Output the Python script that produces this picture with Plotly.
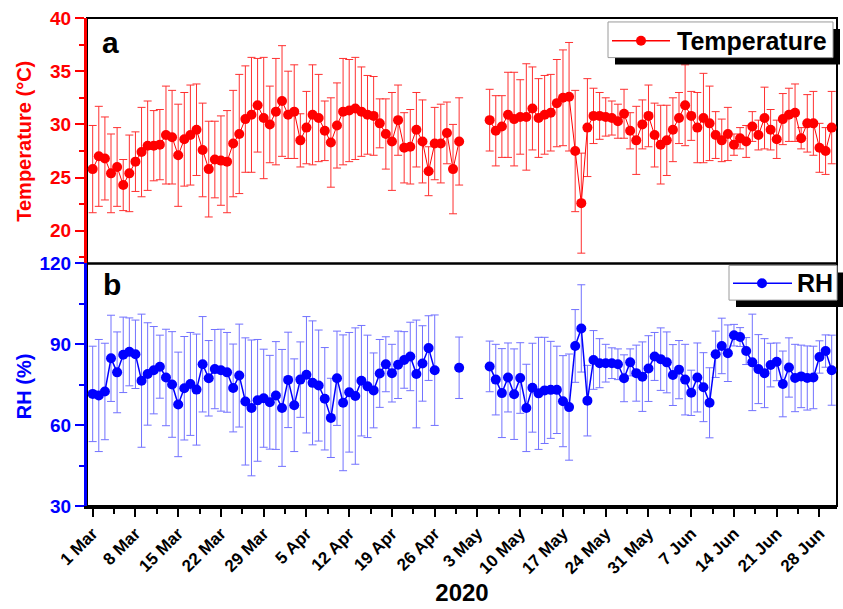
import pandas as pd
import plotly.graph_objects as go

start_date = "2020-03-01"
n_days = 122

temp_mean = [25.8, 27.0, 26.8, 25.4, 26.0, 24.3, 25.4, 26.5, 27.4, 28.0, 28.0, 28.1, 29.0, 28.8, 27.1,
             28.6, 29.0, 29.5, 27.6, 25.8, 26.7, 26.6, 26.5, 28.2, 29.1, 30.5, 30.9, 31.8, 30.6, 30.0,
             31.2, 32.2, 30.9, 31.2, 28.5, 29.7, 30.9, 30.6, 29.4, 28.3, 29.9, 31.2, 31.3, 31.5, 31.2,
             30.9, 30.8, 30.1, 29.1, 28.4, 30.4, 27.8, 27.9, 29.5, 28.4, 25.6, 28.2, 28.2, 29.2, 25.8, 28.4,
             None, None, None, None,
             30.4, 29.4, 29.8, 30.9, 30.5, 30.7, 30.7, 31.5, 30.6, 30.9, 31.1, 32.0, 32.5, 32.6, 27.5,
             22.6, 29.7, 30.8, 30.8, 30.7, 30.6, 30.3, 31.0, 29.4, 28.5, 30.0, 30.8, 29.0, 28.1,
             28.5, 29.5, 30.6, 31.8, 30.8, 29.7, 30.6, 30.1, 29.0, 28.5, 29.1, 28.1, 28.7, 28.4, 29.8,
             29.0, 30.6, 29.5, 28.6, 30.5, 30.9, 31.1, 28.7, 30.1, 30.1, 27.8, 27.5, 29.7]

temp_sd = [4.1, 4.7, 3.9, 3.7, 3.7, 2.4, 3.6, 2.8, 4.2, 4.2, 3.3, 3.3, 4.6, 4.4, 4.8,
           4.4, 4.7, 4.3, 4.4, 4.5, 3.6, 4.2, 4.8, 5.0, 5.6, 5.0, 5.4, 4.4, 5.7, 3.6,
           5.0, 5.2, 4.1, 4.4, 2.5, 3.4, 4.7, 4.1, 2.8, 4.2, 4.0, 5.0, 4.8, 4.8, 4.2,
           3.7, 3.7, 2.3, 3.3, 4.6, 3.3, 3.3, 3.5, 3.5, 3.9, 2.3, 3.4, 3.7, 2.9, 4.2, 4.1,
           None, None, None, None,
           2.9, 3.3, 2.9, 4.0, 4.4, 3.5, 5.0, 3.9, 3.7, 3.7, 3.6, 4.1, 4.5, 5.1, 5.7,
           4.7, 4.6, 2.6, 2.2, 1.8, 1.6, 1.6, 2.3, 1.7, 3.2, 2.3, 2.9, 3.0, 3.7,
           3.3, 3.0, 2.4, 3.8, 2.3, 3.3, 4.2, 3.5, 2.2, 2.0, 2.5, 1.0, 1.0, 1.5, 1.4,
           1.4, 2.9, 1.9, 1.8, 2.4, 2.5, 2.7, 1.0, 2.7, 3.0, 2.3, 2.2, 3.4]

rh_mean = [71.6, 71.0, 72.5, 84.8, 79.6, 86.1, 87.2, 86.3, 76.5, 79.0, 80.4, 81.7, 77.7, 75.1, 67.7,
           73.7, 75.3, 73.2, 82.6, 77.4, 80.8, 80.4, 79.6, 73.8, 78.4, 68.8, 66.4, 69.2, 70.0, 68.5, 71.0,
           66.4, 76.8, 67.4, 76.9, 78.7, 75.7, 74.7, 69.8, 62.7, 77.4, 68.3, 72.2, 70.8, 76.5, 74.4,
           72.9, 79.2, 82.6, 79.3, 82.4, 84.2, 85.5, 79.0, 82.9, 88.6, 80.4,
           None, None, None,
           81.3,
           None, None, None, None,
           81.8, 76.9, 71.9, 77.7, 71.5, 77.5, 66.4, 73.9, 71.8, 72.9, 73.1, 73.1, 68.9, 66.7, 89.4,
           95.9, 69.1, 84.2, 83.0, 83.0, 83.0, 82.6, 77.4, 83.3, 79.3, 78.0, 81.0, 85.5, 84.5,
           83.3, 78.6, 80.6, 76.9, 72.0, 77.7, 74.1, 68.3, 86.3, 89.4, 86.7, 93.4, 92.7, 87.5, 83.3,
           80.8, 79.3, 82.3, 83.5, 75.3, 81.4, 77.5, 78.1, 77.5, 77.7, 85.3, 87.5, 80.4]

rh_sd = [17.7, 20.8, 17.9, 16.0, 15.0, 14.0, 12.6, 12.7, 24.7, 19.0, 16.2, 11.7, 17.9, 19.6, 19.4,
         19.2, 19.1, 20.6, 17.7, 14.0, 14.7, 15.2, 14.8, 16.3, 19.1, 23.6, 25.2, 22.6, 18.2, 17.4, 20.0,
         21.7, 17.7, 17.2, 14.0, 21.6, 23.0, 20.6, 19.0, 14.7, 17.5, 25.2, 22.2, 25.3, 20.5, 19.0,
         13.9, 12.6, 10.2, 10.7, 12.5, 10.5, 12.7, 20.0, 14.0, 12.0, 20.5,
         None, None, None,
         11.4,
         None, None, None, None,
         9.4, 13.1, 16.5, 12.8, 16.8, 13.1, 16.2, 16.5, 20.8, 19.7, 18.0, 16.2, 16.9, 19.7, 13.5,
         16.2, 13.1, 10.9, 9.1, 7.0, 5.7, 5.7, 8.7, 5.0, 10.4, 12.9, 12.2, 8.9, 11.6,
         11.3, 11.3, 10.8, 13.1, 8.4, 12.8, 12.8, 13.0, 8.6, 10.3, 10.5, 4.0, 3.5, 5.0, 17.9,
         12.8, 12.8, 8.1, 7.0, 12.2, 11.0, 12.5, 11.6, 11.9, 11.6, 6.0, 6.0, 13.0]

dates = pd.date_range(start_date, periods=n_days, freq="D")

FONT = "Liberation Sans"
RED = "#ff0000"
BLUE = "#0000ff"

W, H = 843, 609
L, R, T, B = 87, 6, 18, 98
PW = W - L - R
PH = H - T - B


def px(x):
    return (x - L) / PW


def py(y):
    return (H - B - y) / PH


split = py(266)

fig = go.Figure()

fig.add_trace(go.Scatter(
    x=dates, y=temp_mean, mode="lines+markers", name="Temperature",
    line=dict(color=RED, width=1), marker=dict(color=RED, size=10),
    error_y=dict(type="data", array=temp_sd, color="#ff3030", thickness=1, width=4),
    xaxis="x2", yaxis="y2", showlegend=False, connectgaps=False))

fig.add_trace(go.Scatter(
    x=dates, y=rh_mean, mode="lines+markers", name="RH",
    line=dict(color=BLUE, width=1.5), marker=dict(color=BLUE, size=10),
    error_y=dict(type="data", array=rh_sd, color="#7272ff", thickness=1, width=4),
    xaxis="x", yaxis="y", showlegend=False, connectgaps=False))

xrange = ["2020-02-29 01:40", "2020-06-30 20:50"]

fig.update_layout(
    width=W, height=H,
    margin=dict(l=L, r=R, t=T, b=B),
    plot_bgcolor="white", paper_bgcolor="white",
    font=dict(family=FONT, color="black"),
    xaxis=dict(domain=[0, 1], anchor="y", range=xrange, type="date",
               showline=True, linecolor="black", linewidth=3,
               ticks="outside", ticklen=8, tickwidth=2, tickcolor="black",
               tick0="2020-03-01", dtick=604800000, tickformat="%-d %b", tickangle=-45,
               tickfont=dict(family=FONT, size=17, color="black", weight="bold"),
               minor=dict(ticks="outside", ticklen=5, tickwidth=2, tickcolor="black",
                          dtick=302400000, tick0="2020-03-01"),
               showgrid=False, zeroline=False,
               title=dict(text="2020", font=dict(family=FONT, size=24, color="black", weight="bold"),
                          standoff=8)),
    xaxis2=dict(domain=[0, 1], anchor="y2", matches="x", range=xrange, type="date",
                showticklabels=False, showline=False, ticks="", showgrid=False, zeroline=False),
    yaxis=dict(domain=[0, split], anchor="x", range=[30, 120],
               tickvals=[30, 60, 90, 120], showline=True, linecolor=BLUE, linewidth=3,
               ticks="outside", ticklen=9, tickwidth=2, tickcolor=BLUE,
               minor=dict(ticks="outside", ticklen=5, tickwidth=2, tickcolor=BLUE, dtick=15, tick0=30),
               tickfont=dict(family=FONT, size=19, color=BLUE, weight="bold"),
               showgrid=False, zeroline=False),
    yaxis2=dict(domain=[split, 1], anchor="x2", range=[16.93, 40],
                tickvals=[20, 25, 30, 35, 40], showline=True, linecolor=RED, linewidth=3,
                ticks="outside", ticklen=9, tickwidth=2, tickcolor=RED,
                minor=dict(ticks="outside", ticklen=5, tickwidth=2, tickcolor=RED, dtick=2.5, tick0=20),
                tickfont=dict(family=FONT, size=19, color=RED, weight="bold"),
                showgrid=False, zeroline=False),
    showlegend=False,
)

# panel frames
for y0, y1 in [(split, 1.0), (0.0, split)]:
    fig.add_shape(type="rect", xref="paper", yref="paper", x0=0, x1=1, y0=y0, y1=y1,
                  line=dict(color="black", width=2), fillcolor="rgba(0,0,0,0)", layer="below")


def legend_box(x0, x1, y0, y1, line_x0, line_x1, mark_x, mid_y, color, label, text_x):
    # shadow
    fig.add_shape(type="rect", xref="paper", yref="paper",
                  x0=px(x0 + 7), x1=px(x1 + 7), y0=py(y1 + 7), y1=py(y0 + 7),
                  line=dict(width=0), fillcolor="black", layer="above")
    # box
    fig.add_shape(type="rect", xref="paper", yref="paper",
                  x0=px(x0), x1=px(x1), y0=py(y1), y1=py(y0),
                  line=dict(color="#9a9a9a", width=1), fillcolor="white", layer="above")
    # symbol line
    fig.add_shape(type="line", xref="paper", yref="paper",
                  x0=px(line_x0), x1=px(line_x1), y0=py(mid_y), y1=py(mid_y),
                  line=dict(color=color, width=1.5), layer="above")
    # symbol marker
    fig.add_shape(type="circle", xref="paper", yref="paper",
                  x0=px(mark_x - 5), x1=px(mark_x + 5), y0=py(mid_y + 5), y1=py(mid_y - 5),
                  line=dict(color=color, width=0), fillcolor=color, layer="above")
    fig.add_annotation(text=label, xref="paper", yref="paper", x=px(text_x), y=py(mid_y),
                       xanchor="left", yanchor="middle", showarrow=False,
                       font=dict(family=FONT, size=25, color="black", weight="bold"))


legend_box(608, 833, 22, 58, 612, 670, 641, 41, RED, "Temperature", 675)
legend_box(729, 837, 268, 303, 733, 792, 762, 286, BLUE, "RH", 795)

# panel labels
fig.add_annotation(text="a", xref="paper", yref="paper", x=px(110), y=py(43), showarrow=False,
                   xanchor="center", yanchor="middle",
                   font=dict(family=FONT, size=30, color="black", weight="bold"))
fig.add_annotation(text="b", xref="paper", yref="paper", x=px(112), y=py(287), showarrow=False,
                   xanchor="center", yanchor="middle",
                   font=dict(family=FONT, size=30, color="black", weight="bold"))

# axis titles
fig.add_annotation(text="Temperature (°C)", xref="paper", yref="paper", x=px(24), y=py(142),
                   xanchor="center", yanchor="middle", textangle=-90, showarrow=False,
                   font=dict(family=FONT, size=20, color=RED, weight="bold"))
fig.add_annotation(text="RH (%)", xref="paper", yref="paper", x=px(24), y=py(390),
                   xanchor="center", yanchor="middle", textangle=-90, showarrow=False,
                   font=dict(family=FONT, size=20, color=BLUE, weight="bold"))

fig.write_html("out.html")
